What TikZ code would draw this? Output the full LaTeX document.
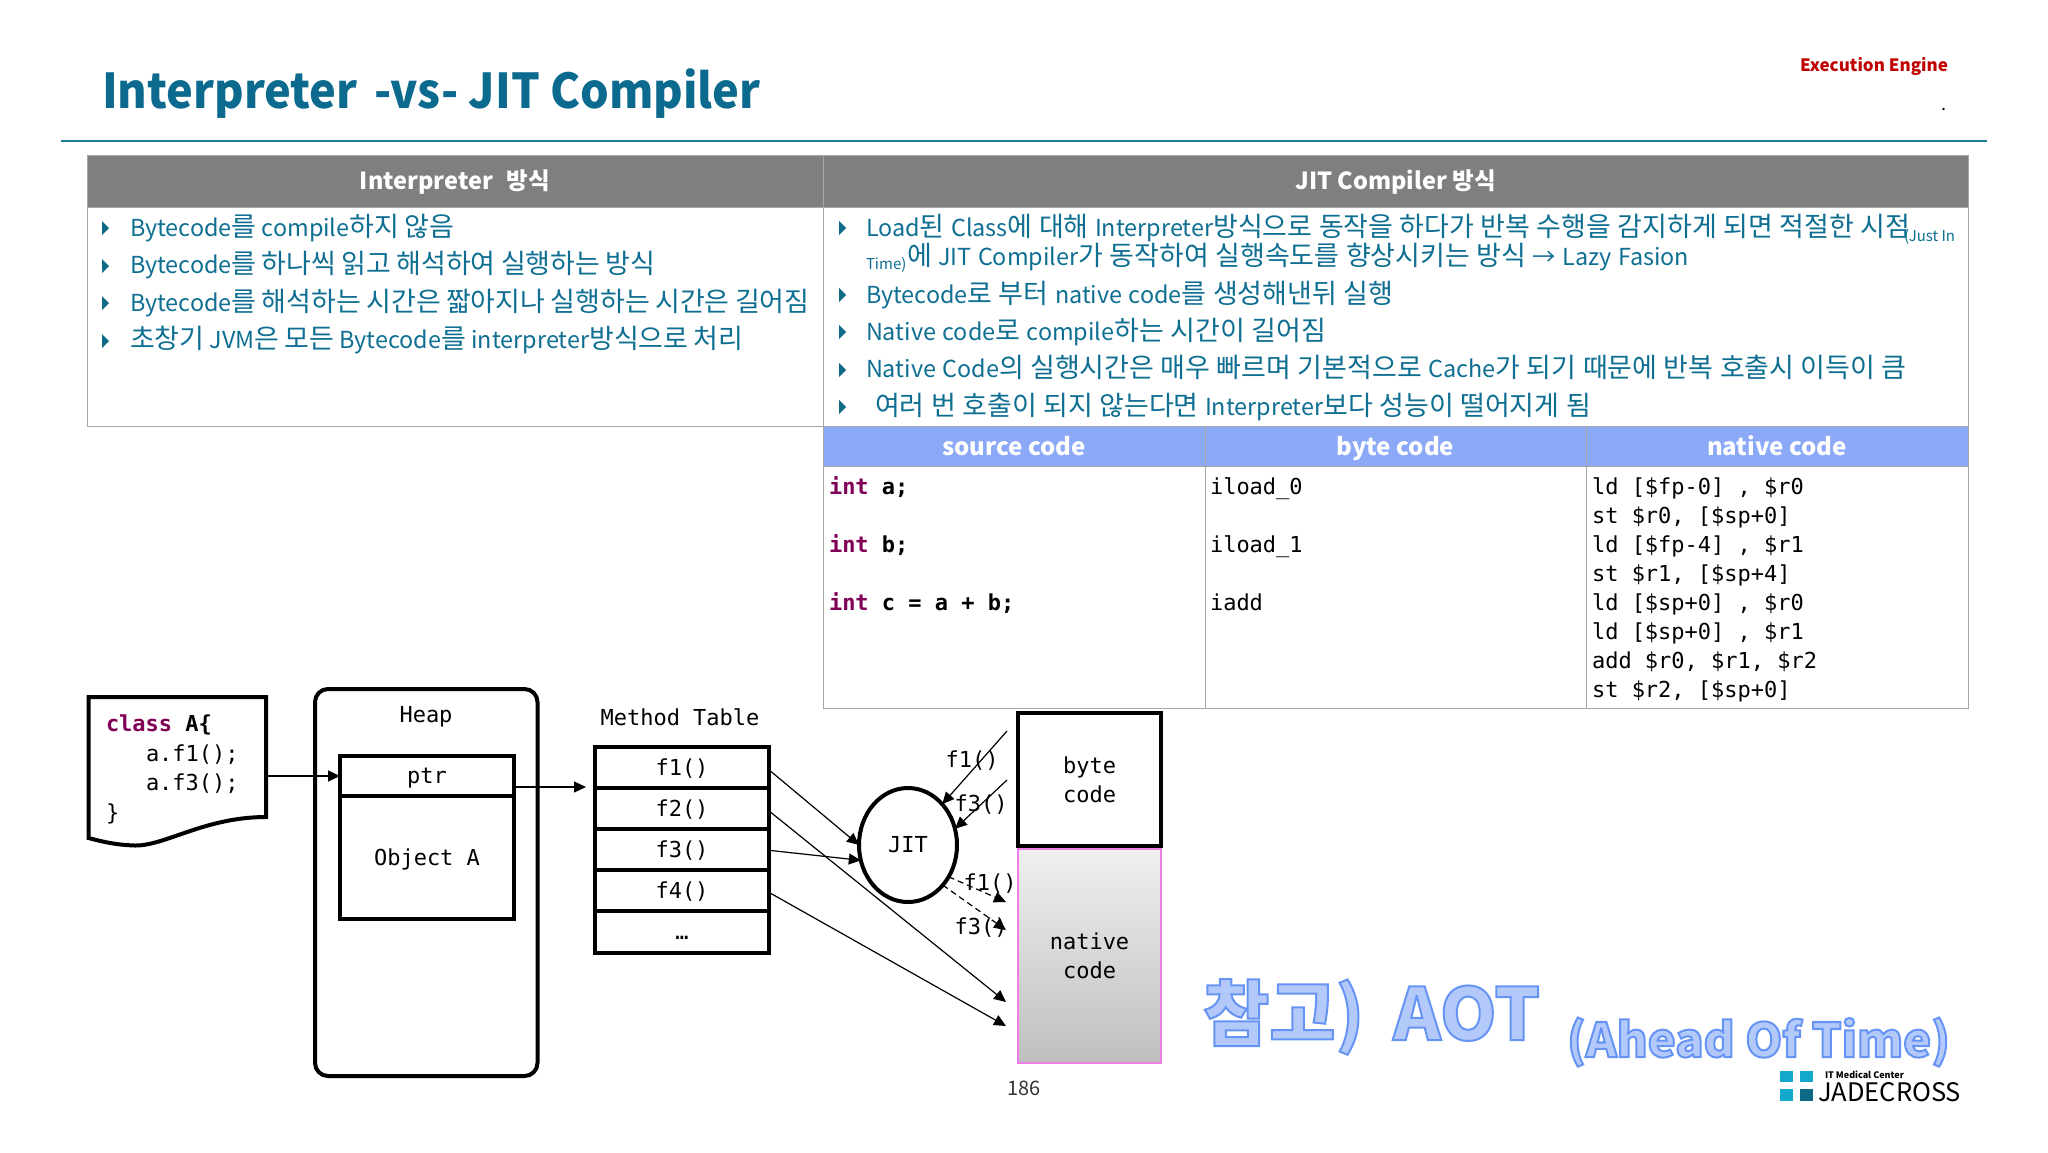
\documentclass[tikz,border=0pt]{standalone}
\usepackage{fontspec}
\usetikzlibrary{arrows.meta,shapes.geometric,calc}
\setmainfont{Noto Sans CJK KR}
\setmonofont{DejaVu Sans Mono}
\newfontfamily\titlefam[FakeStretch=0.94]{Noto Sans CJK KR}
\newcommand\fz[1]{\fontsize{#1}{#1}\selectfont}
\definecolor{titleblue}{HTML}{0B6A8E}
\definecolor{ruleteal}{HTML}{1C7F99}
\definecolor{bodyblue}{HTML}{0F6F92}
\definecolor{hdrgray}{HTML}{7F7F7F}
\definecolor{gridgray}{HTML}{A6A6A6}
\definecolor{hdrblue}{HTML}{8CA9F8}
\definecolor{kw}{HTML}{7F0055}
\definecolor{redtxt}{HTML}{C00000}
\definecolor{logoa}{HTML}{12A8CC}
\definecolor{logob}{HTML}{0E6A85}
\definecolor{pinkb}{HTML}{EE7FE6}
\newcommand\outl[2]{\special{pdf:code 2 Tr #1 w 0.40 0.58 0.96 RG 0.70 0.79 0.98 rg}#2\special{pdf:code 0 Tr 0 w}}
% Hangul set a little larger than Latin within the body lines
\newXeTeXintercharclass\hgclass
\count255="AC00
\loop\XeTeXcharclass\count255=\hgclass\ifnum\count255<"D7A3 \advance\count255 by 1 \repeat
\newcommand\hgon{\fontsize{27}{27}\selectfont}
\newcommand\hgoff{\fontsize{23.4}{27}\selectfont}
\XeTeXinterchartoks 0 \hgclass={\hgon}
\XeTeXinterchartoks \hgclass 0={\hgoff}
\XeTeXinterchartoks 4095 \hgclass={\hgon}
\XeTeXinterchartoks \hgclass 4095={\hgoff}
\newcommand\bodymix{\hgoff\XeTeXinterchartokenstate=1 }
\newcommand\bodywide{\hgoff\XeTeXinterchartokenstate=1 \spaceskip=6.4pt\relax}
\begin{document}
\begin{tikzpicture}[x=1pt,y=-1pt,
  every node/.style={inner sep=0pt,outer sep=0pt},
  hdr/.style={draw=gridgray,line width=1pt,fill=hdrgray,text=white,font=\fz{23.5}\bfseries,text height=20pt,text depth=3pt},
  hdrb/.style={draw=gridgray,line width=1pt,fill=hdrblue,text=white,font=\fz{24}\bfseries,text height=20pt,text depth=2pt},
  cell/.style={draw=gridgray,line width=1pt,fill=white},
  body/.style={anchor=base west,text=bodyblue,font=\bodymix},
  bodyr/.style={anchor=base west,text=bodyblue,font=\bodywide},
  small/.style={anchor=base west,text=bodyblue,font=\fz{15}},
  bul/.style={fill=logob,draw=none},
  code/.style={anchor=base west,font=\fz{22}\ttfamily,text=black},
  mono/.style={font=\fz{22}\ttfamily,text=black,align=center,text height=17pt,text depth=2pt},
  box/.style={draw=black,line width=4pt,fill=white,font=\fz{22}\ttfamily,text height=17pt,text depth=2pt},
  twoline/.style={font=\fontsize{22}{29}\selectfont\ttfamily,align=center},
  conn/.style={draw=black,line width=1.2pt,-{Triangle[length=12pt,width=11pt]}},
  dconn/.style={conn,dash pattern=on 6pt off 4pt}
]
\useasboundingbox (0,0) rectangle (2048,1152);
\fill[white] (0,0) rectangle (2048,1152);
% title
\node[anchor=base west,text=titleblue,font=\titlefam\fz{48}\bfseries] (title) at (102,108) {Interpreter\hspace{6pt} -vs- JIT Compiler};
\node[anchor=base east,text=redtxt,font=\fz{17}\bfseries] (section) at (1948,71) {Execution Engine};
\node[anchor=base,font=\fz{18}] (dot) at (1944,110) {.};
\draw[ruleteal,line width=1.5pt] (61,141) -- (1987,141);
% upper table
\node[hdr,minimum width=736,minimum height=52,anchor=north west] (hleft) at (87,155) {Interpreter\hspace{14pt}방식};
\node[hdr,minimum width=1145,minimum height=52,anchor=north west] (hright) at (823,155) {JIT Compiler 방식};
\node[cell,minimum width=736,minimum height=219,anchor=north west] (bleft) at (87,207) {};
\node[cell,minimum width=1145,minimum height=219,anchor=north west] (bright) at (823,207) {};
\foreach \y in {228,266,303,341}{\fill[bul] (102,\y-7) -- (109,\y) -- (102,\y+7) -- cycle;}
\foreach \y in {228,295,332,370,407}{\fill[bul] (839,\y-7) -- (846,\y) -- (839,\y+7) -- cycle;}
\node[body] (l1) at (130,236) {Bytecode를 compile하지 않음};
\node[body] (l2) at (130,273) {Bytecode를 하나씩 읽고 해석하여 실행하는 방식};
\node[body] (l3) at (130,311) {Bytecode를 해석하는 시간은 짧아지나 실행하는 시간은 길어짐};
\node[body] (l4) at (130,348) {초창기 JVM은 모든 Bytecode를 interpreter방식으로 처리};
\node[bodyr] (r1) at (866,236) {Load된 Class에 대해 Interpreter방식으로 동작을 하다가 반복 수행을 감지하게 되면 적절한 시점};
\node[small] (r1b) at (1904,241) {(Just In};
\node[small] (r2a) at (866,269) {Time)};
\node[bodyr] (r2) at (907,265) {에 JIT Compiler가 동작하여 실행속도를 향상시키는 방식 → Lazy Fasion};
\node[bodyr] (r3) at (866,303) {Bytecode로 부터 native code를 생성해낸뒤 실행};
\node[bodyr] (r4) at (866,340) {Native code로 compile하는 시간이 길어짐};
\node[bodyr] (r5) at (866,377) {Native Code의 실행시간은 매우 빠르며 기본적으로 Cache가 되기 때문에 반복 호출시 이득이 큼};
\node[bodyr] (r6) at (875,415) {여러 번 호출이 되지 않는다면 Interpreter보다 성능이 떨어지게 됨};
% code table
\node[hdrb,minimum width=382,minimum height=40,anchor=north west] (hsrc) at (823,426) {source code};
\node[hdrb,minimum width=381,minimum height=40,anchor=north west] (hbyt) at (1205,426) {byte code};
\node[hdrb,minimum width=382,minimum height=40,anchor=north west] (hnat) at (1586,426) {native code};
\node[cell,minimum width=382,minimum height=242,anchor=north west] (csrc) at (823,466) {};
\node[cell,minimum width=381,minimum height=242,anchor=north west] (cbyt) at (1205,466) {};
\node[cell,minimum width=382,minimum height=242,anchor=north west] (cnat) at (1586,466) {};
\node[code] (s1) at (829,494) {\textcolor{kw}{\bfseries int} \textbf{a;}};
\node[code] (s2) at (829,552) {\textcolor{kw}{\bfseries int} \textbf{b;}};
\node[code] (s3) at (829,610) {\textcolor{kw}{\bfseries int} \textbf{c = a + b;}};
\node[code] (b1) at (1210,494) {iload\_0};
\node[code] (b2) at (1210,552) {iload\_1};
\node[code] (b3) at (1210,610) {iadd};
\node[code] (n1) at (1592,494) {ld [\$fp-0] , \$r0};
\node[code] (n2) at (1592,523) {st \$r0, [\$sp+0]};
\node[code] (n3) at (1592,552) {ld [\$fp-4] , \$r1};
\node[code] (n4) at (1592,581) {st \$r1, [\$sp+4]};
\node[code] (n5) at (1592,610) {ld [\$sp+0] , \$r0};
\node[code] (n6) at (1592,639) {ld [\$sp+0] , \$r1};
\node[code] (n7) at (1592,668) {add \$r0, \$r1, \$r2};
\node[code] (n8) at (1592,697) {st \$r2, [\$sp+0]};
% document shape
\draw[black,line width=4pt,fill=white,line join=miter] (88.5,697) -- (266,697) -- (266,817) .. controls (205,817) and (165,846) .. (135,845.5) .. controls (115,845) and (100,841) .. (88.5,838) -- cycle;
\node[code] (d1) at (106,731) {\textcolor{kw}{\bfseries class} \textbf{A\{}};
\node[code] (d2) at (146,761) {a.f1();};
\node[code] (d3) at (146,790) {a.f3();};
\node[code] (d4) at (106,820) {\}};
\coordinate (docout) at (267,776);
% heap
\draw[black,line width=4pt,fill=white,rounded corners=13pt] (315,689) rectangle (537.5,1076);
\node[mono] (heap) at (426,715) {Heap};
\node[box,minimum width=174,minimum height=40] (ptr) at (427,776) {ptr};
\node[box,minimum width=174,minimum height=123,anchor=north] (obj) at (427,796) {Object A};
% method table
\node[mono] (mt) at (680,718) {Method Table};
\node[box,minimum width=174,minimum height=41,anchor=north west] (f1) at (595,747) {f1()};
\node[box,minimum width=174,minimum height=41,anchor=north west] (f2) at (595,788) {f2()};
\node[box,minimum width=174,minimum height=41,anchor=north west] (f3) at (595,829) {f3()};
\node[box,minimum width=174,minimum height=41,anchor=north west] (f4) at (595,870) {f4()};
\node[box,minimum width=174,minimum height=42,anchor=north west] (f5) at (595,911) {…};
\coordinate (mtin) at (586,787);
% JIT
\node[ellipse,draw=black,line width=4pt,fill=white,minimum width=98,minimum height=114,font=\fz{22}\ttfamily,text height=17pt,text depth=2pt] (jit) at (908,845) {JIT};
% code boxes
\node[draw=black,line width=4.5pt,fill=white,twoline,minimum width=143,minimum height=133,anchor=north west] (bc) at (1018,713) {byte\\code};
\node[rectangle,draw=pinkb,line width=1.5pt,top color=gray!12,bottom color=gray!50,twoline,minimum width=143,minimum height=214,anchor=north west] (nc) at (1018,849) {native\\code};
\coordinate (bcf1) at (1007,731);
\coordinate (bcf3) at (1007,780);
\coordinate (ncm2) at (1006,1002);
\coordinate (ncm4) at (1006,1026);
\coordinate (ncf1) at (1006,902);
\coordinate (ncf3) at (1006,930);
% connector labels
\node[mono] (lf1) at (972,760) {f1()};
\node[mono] (lf3) at (981,804) {f3()};
\node[mono] (lf1n) at (990,883) {f1()};
\node[mono] (lf3n) at (981,927) {f3()};
% connectors
\draw[conn] (docout) -- (ptr.west);
\draw[conn] ($(ptr.east)+(0,11)$) -- (mtin);
\draw[conn] ($(f1.east)+(2,4)$) -- (jit.180);
\draw[conn] ($(f2.east)+(2,4)$) -- (ncm2);
\draw[conn] ($(f3.east)+(2,1)$) -- (jit.198);
\draw[conn] ($(f4.east)+(2,3)$) -- (ncm4);
\draw[conn] (bcf1) -- (jit.50);
\draw[conn] (bcf3) -- (jit.19);
\draw[dconn] (jit.-38) -- (ncf1);
\draw[dconn] (jit.-49) -- (ncf3);
% page number
\node[anchor=center,font=\fz{20},text=black!80] (page) at (1024,1088) {186};
% AOT
\node[anchor=base west,font=\fz{72}\bfseries] (aot) at (1203,1040) {\outl{2}{참고)\hspace{29pt}AOT}};
\node[anchor=base west,font=\fz{47}\bfseries] (ahead) at (1567,1057) {\outl{2}{(Ahead Of Time)}};
% logo
\fill[logoa] (1780,1071) rectangle (1792.5,1082);
\fill[logoa] (1800,1071) rectangle (1812.5,1082);
\fill[logoa] (1780,1089) rectangle (1792.5,1101);
\fill[logob] (1800,1089) rectangle (1812.5,1101);
\node[anchor=base west,font=\fz{9}\bfseries,text=black] (lg1) at (1825,1078) {IT Medical Center};
\node[anchor=base west,font=\fz{25.5},text=black] (lg2) at (1818,1101) {JADECROSS};
\end{tikzpicture}
\end{document}
